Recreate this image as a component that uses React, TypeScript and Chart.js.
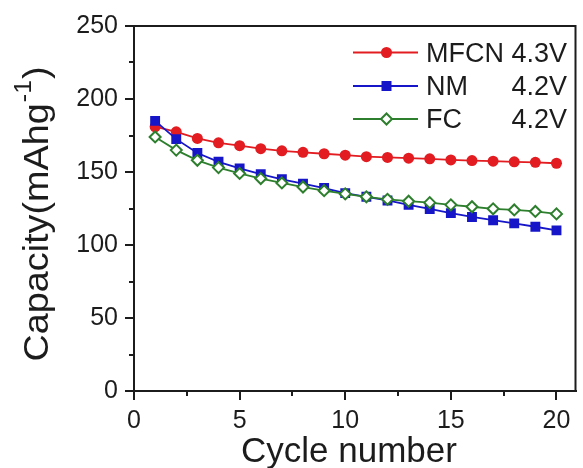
import React, { useEffect, useRef } from "react";
import { Chart, registerables } from "chart.js";

Chart.register(...registerables);

// ---- data ----
const cycles = [1, 2, 3, 4, 5, 6, 7, 8, 9, 10, 11, 12, 13, 14, 15, 16, 17, 18, 19, 20];
const mfcn = [181, 177.5, 173, 170, 168, 166, 164.5, 163.5, 162.5, 161.5, 160.5, 160, 159.5, 159, 158.3, 157.8, 157.4, 157, 156.6, 156];
const nm = [185, 172.5, 163, 157, 152.5, 148.5, 145, 142, 139, 135.5, 133, 130.5, 127.5, 124.7, 121.8, 119.2, 117, 114.8, 112.5, 110];
const fc = [174, 165, 158, 153, 149, 145.5, 142.5, 139.7, 137.2, 135, 133, 131.3, 130, 129, 127.5, 126.2, 124.8, 124, 123, 121.3];

const seriesNames = ["MFCN", "NM", "FC"];
const seriesVoltages = ["4.3V", "4.2V", "4.2V"];
const xTicks = [0, 5, 10, 15, 20];
const xMinorTicks = [2.5, 7.5, 12.5, 17.5];
const yMinorTicks = [25, 75, 125, 175, 225];
const xTitle = "Cycle number";
const yTitleMain = "Capacity(mAhg";
const yTitleSup = "-1";
const yTitleEnd = ")";

const RED = "#e21c20";
const BLUE = "#1616c8";
const GREEN = "#2d7f2d";
const INK = "#1c1c1c";
const FONT = '"Liberation Sans", Arial, sans-serif';

const colors = [RED, BLUE, GREEN];
const styles = ["circle", "rect", "rectRot"];

function drawMarker(ctx: CanvasRenderingContext2D, style: string, x: number, y: number, color: string) {
  ctx.save();
  ctx.beginPath();
  if (style === "circle") {
    ctx.arc(x, y, 5.5, 0, Math.PI * 2);
    ctx.fillStyle = color;
    ctx.fill();
  } else if (style === "rect") {
    ctx.rect(x - 5, y - 5, 10, 10);
    ctx.fillStyle = color;
    ctx.fill();
  } else {
    const r = 5.5;
    ctx.moveTo(x - r, y);
    ctx.lineTo(x, y - r);
    ctx.lineTo(x + r, y);
    ctx.lineTo(x, y + r);
    ctx.closePath();
    ctx.fillStyle = "#fff";
    ctx.fill();
    ctx.lineWidth = 2;
    ctx.strokeStyle = color;
    ctx.stroke();
  }
  ctx.restore();
}

const extrasPlugin = {
  id: "extras",
  afterDraw(chart: any) {
    const { ctx, chartArea, scales } = chart;
    const { left, right, top, bottom } = chartArea;
    const x = scales.x;
    const y = scales.y;
    ctx.save();
    ctx.strokeStyle = INK;
    ctx.lineWidth = 2;
    // top and right frame
    ctx.beginPath();
    ctx.moveTo(left - 1, top);
    ctx.lineTo(right, top);
    ctx.lineTo(right, bottom);
    ctx.stroke();
    // minor ticks
    ctx.lineWidth = 2;
    ctx.beginPath();
    for (const v of yMinorTicks) {
      const py = Math.round(y.getPixelForValue(v));
      ctx.moveTo(left, py);
      ctx.lineTo(left - 5, py);
    }
    for (const v of xMinorTicks) {
      const px = Math.round(x.getPixelForValue(v));
      ctx.moveTo(px, bottom);
      ctx.lineTo(px, bottom + 5);
    }
    ctx.stroke();

    // legend
    const rowsY = [52.5, 86, 119];
    const baseY = [62, 95, 128];
    for (let i = 0; i < seriesNames.length; i++) {
      ctx.strokeStyle = colors[i];
      ctx.lineWidth = 2;
      ctx.beginPath();
      ctx.moveTo(353, rowsY[i]);
      ctx.lineTo(418, rowsY[i]);
      ctx.stroke();
      drawMarker(ctx, styles[i], 386.5, rowsY[i], colors[i]);
      ctx.fillStyle = INK;
      ctx.font = `27px ${FONT}`;
      ctx.textBaseline = "alphabetic";
      ctx.textAlign = "left";
      ctx.fillText(seriesNames[i], 426, baseY[i]);
      ctx.textAlign = "right";
      ctx.fillText(seriesVoltages[i], 567, baseY[i]);
    }

    // x title
    ctx.fillStyle = INK;
    ctx.font = `35px ${FONT}`;
    ctx.textAlign = "center";
    ctx.textBaseline = "alphabetic";
    ctx.fillText(xTitle, 349, 462);

    // y title (rotated, with superscript)
    ctx.save();
    ctx.translate(48, 214);
    ctx.rotate(-Math.PI / 2);
    ctx.scale(1.08, 1);
    ctx.textAlign = "left";
    ctx.font = `35px ${FONT}`;
    const w1 = ctx.measureText(yTitleMain).width;
    const w3 = ctx.measureText(yTitleEnd).width;
    ctx.font = `23px ${FONT}`;
    const w2 = ctx.measureText(yTitleSup).width;
    const start = -(w1 + w2 + w3 + 2) / 2;
    ctx.font = `35px ${FONT}`;
    ctx.fillText(yTitleMain, start, 0);
    ctx.font = `23px ${FONT}`;
    ctx.fillText(yTitleSup, start + w1 + 1, -17);
    ctx.font = `35px ${FONT}`;
    ctx.fillText(yTitleEnd, start + w1 + w2 + 2, 0);
    ctx.restore();

    ctx.restore();
  },
};

export default function App() {
  const ref = useRef<HTMLCanvasElement | null>(null);
  useEffect(() => {
    if (!ref.current) return;
    const mk = (label: string, data: number[], i: number, order: number) => ({
      label,
      data: cycles.map((c, k) => ({ x: c, y: data[k] })),
      borderColor: colors[i],
      backgroundColor: i === 2 ? "#ffffff" : colors[i],
      pointBorderColor: colors[i],
      pointBackgroundColor: i === 2 ? "#ffffff" : colors[i],
      pointStyle: styles[i],
      pointRadius: i === 0 ? 5.5 : i === 1 ? 7 : 5.5,
      pointBorderWidth: i === 2 ? 2 : 0,
      borderWidth: 1.8,
      tension: 0,
      order,
    });
    const chart = new Chart(ref.current, {
      type: "line",
      data: {
        datasets: [mk(seriesNames[0], mfcn, 0, 2), mk(seriesNames[1], nm, 1, 1), mk(seriesNames[2], fc, 2, 0)],
      },
      options: {
        animation: false,
        responsive: false,
        devicePixelRatio: 1,
        layout: { padding: { left: 0, right: 1, top: 26, bottom: 0 } },
        plugins: { legend: { display: false }, tooltip: { enabled: false } },
        scales: {
          x: {
            type: "linear",
            min: 0,
            max: 20.9,
            afterBuildTicks: (s: any) => {
              s.ticks = xTicks.map((v) => ({ value: v }));
            },
            afterFit: (s: any) => {
              s.height = 77;
            },
            grid: { drawOnChartArea: false, drawTicks: true, tickLength: 9, tickColor: INK, lineWidth: 2 },
            border: { display: true, color: INK, width: 2 },
            ticks: { color: INK, font: { family: FONT, size: 25 }, padding: 6, maxRotation: 0, autoSkip: false },
          },
          y: {
            min: 0,
            max: 250,
            ticks: { stepSize: 50, color: INK, font: { family: FONT, size: 25 }, padding: 7 },
            afterFit: (s: any) => {
              s.width = 134;
            },
            grid: { drawOnChartArea: false, drawTicks: true, tickLength: 9, tickColor: INK, lineWidth: 2 },
            border: { display: true, color: INK, width: 2 },
          },
        },
      },
      plugins: [extrasPlugin],
    } as any);
    return () => chart.destroy();
  }, []);
  return (
    <div style={{ position: "fixed", left: 0, top: 0, width: 583, height: 468, background: "#fff" }}>
      <canvas ref={ref} width={583} height={468} style={{ width: 583, height: 468, display: "block" }} />
    </div>
  );
}
